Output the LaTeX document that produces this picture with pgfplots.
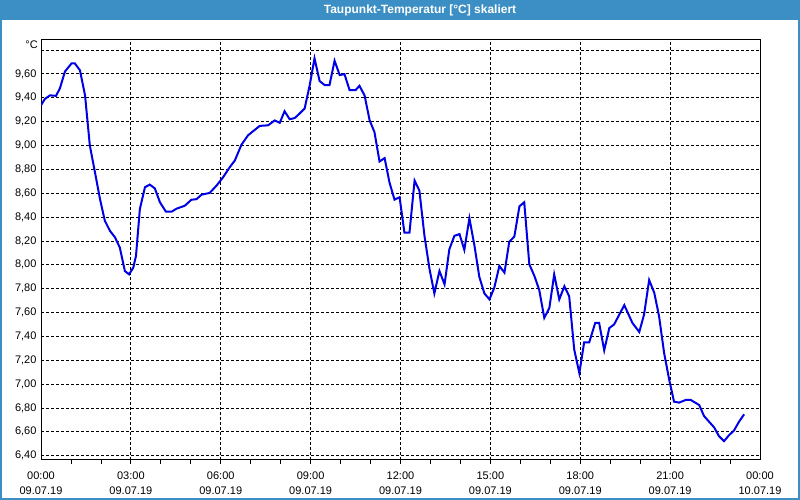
\documentclass[border=0pt]{standalone}
\usepackage{fontspec}
\setmainfont{Liberation Sans}
\usepackage{pgfplots}
\pgfplotsset{compat=1.18}
\definecolor{barblue}{HTML}{3B8FC4}
\definecolor{lineblue}{HTML}{0000E6}
\begin{document}
\begin{tikzpicture}
\begin{scope}[x=1pt,y=1pt,shift={(-41pt,-40pt)}]
\useasboundingbox (0,0) rectangle (800,500);
\fill[white] (0,0) rectangle (800,500);
\fill[barblue] (0,479.5) rectangle (800,500);
\draw[barblue, line width=2pt] (1,1) rectangle (799,499);
\node[text=white, font=\fontsize{12}{14}\selectfont\bfseries] at (420,490) {Taupunkt-Temperatur [°C] skaliert};
\node[anchor=east, font=\fontsize{11}{13}\selectfont, inner sep=0pt] at (38,455) {°C};
\end{scope}
\begin{axis}[
  at={(0pt,0pt)}, anchor=south west,
  scale only axis, width=719pt, height=420pt,
  xmin=0, xmax=24, ymin=6.364, ymax=9.884,
  axis line style={black, line width=1pt},
  xtick={0,3,6,9,12,15,18,21,24},
  xticklabels={{00:00\\09.07.19},{03:00\\09.07.19},{06:00\\09.07.19},{09:00\\09.07.19},{12:00\\09.07.19},{15:00\\09.07.19},{18:00\\09.07.19},{21:00\\09.07.19},{00:00\\10.07.19}},
  minor xtick={1,2,3,4,5,6,7,8,9,10,11,12,13,14,15,16,17,18,19,20,21,22,23},
  ytick={6.4,6.6,6.8,7.0,7.2,7.4,7.6,7.8,8.0,8.2,8.4,8.6,8.8,9.0,9.2,9.4,9.6,9.8},
  yticklabels={{6,40},{6,60},{6,80},{7,00},{7,20},{7,40},{7,60},{7,80},{8,00},{8,20},{8,40},{8,60},{8,80},{9,00},{9,20},{9,40},{9,60},{}},
  xticklabel style={align=center, font=\fontsize{11}{15}\selectfont, yshift=-8pt},
  yticklabel style={font=\fontsize{11}{13}\selectfont, xshift=-1pt},
  tick align=outside,
  xtick pos=lower, ytick pos=left,
  major tick length=0pt, minor tick length=4pt,
  tick style={black, line width=0.8pt},
  grid=major,
  major grid style={black, dash pattern=on 3pt off 2pt, line width=0.8pt},
]
\addplot[lineblue, line width=2pt, no marks] coordinates {
(0,9.337) (0.13,9.39) (0.3,9.42) (0.5,9.416) (0.63,9.478) (0.8,9.62) (1.02,9.688) (1.13,9.688)
(1.3,9.63) (1.47,9.42) (1.63,9.0) (1.8,8.777) (1.97,8.55) (2.13,8.37) (2.3,8.285) (2.47,8.23)
(2.63,8.145) (2.8,7.948) (2.94,7.92) (3.08,7.976) (3.17,8.074) (3.3,8.467) (3.47,8.65) (3.63,8.672)
(3.8,8.64) (3.97,8.524) (4.17,8.445) (4.36,8.445) (4.52,8.47) (4.8,8.495) (5.02,8.545) (5.19,8.55)
(5.36,8.588) (5.63,8.602) (5.86,8.664) (6.08,8.734) (6.3,8.818) (6.47,8.874) (6.69,9.006) (6.91,9.085)
(7.3,9.164) (7.58,9.169) (7.8,9.21) (7.97,9.19) (8.13,9.287) (8.3,9.22) (8.47,9.23) (8.63,9.267)
(8.8,9.31) (8.97,9.506) (9.13,9.73) (9.3,9.54) (9.47,9.506) (9.63,9.506) (9.8,9.71) (9.97,9.59)
(10.13,9.598) (10.3,9.464) (10.5,9.464) (10.63,9.5) (10.8,9.42) (10.97,9.21) (11.13,9.113) (11.3,8.866)
(11.47,8.894) (11.63,8.692) (11.8,8.546) (11.97,8.566) (12.13,8.27) (12.3,8.27) (12.47,8.706) (12.63,8.622)
(12.8,8.243) (12.97,7.962) (13.13,7.76) (13.3,7.948) (13.47,7.836) (13.63,8.13) (13.8,8.243) (13.97,8.257)
(14.13,8.125) (14.3,8.39) (14.47,8.158) (14.63,7.9) (14.8,7.76) (14.97,7.71) (15.13,7.808) (15.3,7.99)
(15.47,7.934) (15.63,8.192) (15.8,8.237) (15.97,8.49) (16.13,8.524) (16.3,8.004) (16.47,7.906) (16.63,7.79)
(16.8,7.555) (16.97,7.64) (17.13,7.92) (17.3,7.71) (17.47,7.82) (17.63,7.737) (17.8,7.288) (17.97,7.092)
(18.13,7.35) (18.3,7.35) (18.5,7.513) (18.63,7.513) (18.8,7.283) (18.97,7.47) (19.13,7.5) (19.47,7.662)
(19.74,7.513) (19.97,7.437) (20.13,7.583) (20.3,7.872) (20.47,7.766) (20.63,7.57) (20.8,7.26) (20.97,7.036)
(21.13,6.853) (21.3,6.845) (21.52,6.867) (21.69,6.867) (21.97,6.825) (22.13,6.733) (22.3,6.685) (22.47,6.637)
(22.63,6.564) (22.8,6.522) (22.97,6.573) (23.13,6.61) (23.3,6.685) (23.47,6.747)
};
\end{axis}
\end{tikzpicture}
\end{document}
